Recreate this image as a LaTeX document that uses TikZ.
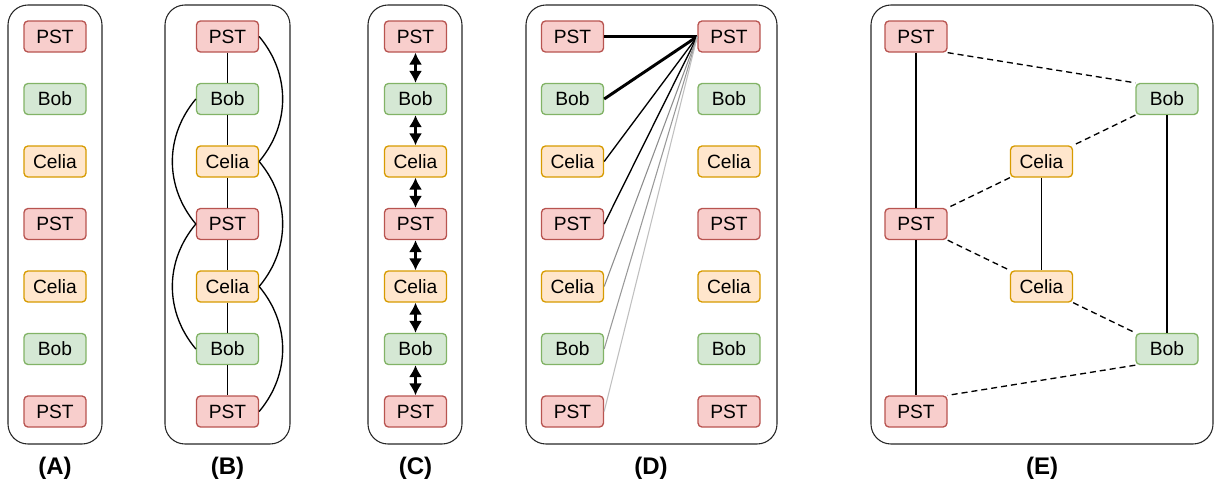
\documentclass[tikz,border=0pt]{standalone}
\usepackage{fontspec}
\setmainfont{Liberation Sans}
\usetikzlibrary{arrows.meta}
\definecolor{pstfill}{HTML}{F8CECC}
\definecolor{pstline}{HTML}{B85450}
\definecolor{bobfill}{HTML}{D5E8D4}
\definecolor{bobline}{HTML}{82B366}
\definecolor{celiafill}{HTML}{FFE6CC}
\definecolor{celialine}{HTML}{D79B00}

\begin{document}
\begin{tikzpicture}[x=0.75pt, y=-0.75pt,
  actor/.style={draw, rounded corners=3pt, line width=1pt, minimum width=46.5pt,
    minimum height=23.25pt, inner sep=0pt, font=\fontsize{14.4}{16}\selectfont},
  pst/.style={actor, draw=pstline, fill=pstfill},
  bob/.style={actor, draw=bobline, fill=bobfill},
  celia/.style={actor, draw=celialine, fill=celiafill},
  panel/.style={draw=black!85, line width=0.8pt, rounded corners=15pt},
  caption/.style={font=\bfseries\fontsize{18}{21}\selectfont},
  link/.style={line width=1pt},
  swap/.style={line width=1.8pt, {Latex[length=9pt,width=10pt]}-{Latex[length=9pt,width=10pt]}},
  hop/.style={line width=1pt, dash pattern=on 4.5pt off 3pt}]
% Fix the page to the reference size
\useasboundingbox (0,0) rectangle (1214,486);
% Panel frames
\draw[panel] (8,5) rectangle (102,444);
\draw[panel] (165,5) rectangle (290,444);
\draw[panel] (368,5) rectangle (462,444);
\draw[panel] (526,5) rectangle (777,444);
\draw[panel] (871,5) rectangle (1213,444);
% (A) just the sequence
\node[pst] (a1) at (55,36.5) {PST};
\node[bob] (a2) at (55,99) {Bob};
\node[celia] (a3) at (55,161.5) {Celia};
\node[pst] (a4) at (55,224) {PST};
\node[celia] (a5) at (55,286.5) {Celia};
\node[bob] (a6) at (55,349) {Bob};
\node[pst] (a7) at (55,411.5) {PST};
% (B) sequence with neighbour links and arcs
\node[pst] (b1) at (227.5,36.5) {PST};
\node[bob] (b2) at (227.5,99) {Bob};
\node[celia] (b3) at (227.5,161.5) {Celia};
\node[pst] (b4) at (227.5,224) {PST};
\node[celia] (b5) at (227.5,286.5) {Celia};
\node[bob] (b6) at (227.5,349) {Bob};
\node[pst] (b7) at (227.5,411.5) {PST};
\draw[link] (b1) -- (b2);
\draw[link] (b2) -- (b3);
\draw[link] (b3) -- (b4);
\draw[link] (b4) -- (b5);
\draw[link] (b5) -- (b6);
\draw[link] (b6) -- (b7);
% arcs on the right side
\draw[link] (b1.east) to[out=-50,in=50] (b3.east);
\draw[link] (b3.east) to[out=-50,in=50] (b5.east);
\draw[link] (b5.east) to[out=-50,in=50] (b7.east);
% arcs on the left side
\draw[link] (b2.west) to[out=-130,in=130] (b4.west);
\draw[link] (b4.west) to[out=-130,in=130] (b6.west);
% (C) sequence with two-way arrows
\node[pst] (c1) at (415.5,36.5) {PST};
\node[bob] (c2) at (415.5,99) {Bob};
\node[celia] (c3) at (415.5,161.5) {Celia};
\node[pst] (c4) at (415.5,224) {PST};
\node[celia] (c5) at (415.5,286.5) {Celia};
\node[bob] (c6) at (415.5,349) {Bob};
\node[pst] (c7) at (415.5,411.5) {PST};
\draw[swap] (c1) -- (c2);
\draw[swap] (c2) -- (c3);
\draw[swap] (c3) -- (c4);
\draw[swap] (c4) -- (c5);
\draw[swap] (c5) -- (c6);
\draw[swap] (c6) -- (c7);
% (D) left column
\node[pst] (dl1) at (572.5,36.5) {PST};
\node[bob] (dl2) at (572.5,99) {Bob};
\node[celia] (dl3) at (572.5,161.5) {Celia};
\node[pst] (dl4) at (572.5,224) {PST};
\node[celia] (dl5) at (572.5,286.5) {Celia};
\node[bob] (dl6) at (572.5,349) {Bob};
\node[pst] (dl7) at (572.5,411.5) {PST};
% (D) right column
\node[pst] (dr1) at (729,36.5) {PST};
\node[bob] (dr2) at (729,99) {Bob};
\node[celia] (dr3) at (729,161.5) {Celia};
\node[pst] (dr4) at (729,224) {PST};
\node[celia] (dr5) at (729,286.5) {Celia};
\node[bob] (dr6) at (729,349) {Bob};
\node[pst] (dr7) at (729,411.5) {PST};
% fan of weighted lines into the first PST
\draw[line width=2.2pt] (dr1.west) -- (dl1.east);
\draw[line width=2.2pt] (dr1.west) -- (dl2.east);
\draw[line width=1pt] (dr1.west) -- (dl3.east);
\draw[line width=1pt] (dr1.west) -- (dl4.east);
\draw[line width=0.8pt, black!45] (dr1.west) -- (dl5.east);
\draw[line width=0.8pt, black!40] (dr1.west) -- (dl6.east);
\draw[line width=0.8pt, black!25] (dr1.west) -- (dl7.east);
% (E) graph of the sequence
\node[pst] (e1) at (916,36.5) {PST};
\node[bob] (e2) at (1167,99) {Bob};
\node[celia] (e3) at (1041.5,161.5) {Celia};
\node[pst] (e4) at (916,224) {PST};
\node[celia] (e5) at (1041.5,286.5) {Celia};
\node[bob] (e6) at (1167,349) {Bob};
\node[pst] (e7) at (916,411.5) {PST};
% solid links between equal actors
\draw[link] (e1) -- (e4);
\draw[link] (e4) -- (e7);
\draw[link] (e3) -- (e5);
\draw[link] (e2) -- (e6);
% dashed links between neighbours
\draw[hop] (e1.south east) -- (e2.north west);
\draw[hop] (e2.south west) -- (e3.north east);
\draw[hop] (e3.south west) -- (e4.north east);
\draw[hop] (e4.south east) -- (e5.north west);
\draw[hop] (e5.south east) -- (e6.north west);
\draw[hop] (e6.south west) -- (e7.north east);
% Captions
\node[caption] (capA) at (55,468) {(A)};
\node[caption] (capB) at (227.5,468) {(B)};
\node[caption] (capC) at (415.5,468) {(C)};
\node[caption] (capD) at (651,468) {(D)};
\node[caption] (capE) at (1042,468) {(E)};
\end{tikzpicture}
\end{document}
